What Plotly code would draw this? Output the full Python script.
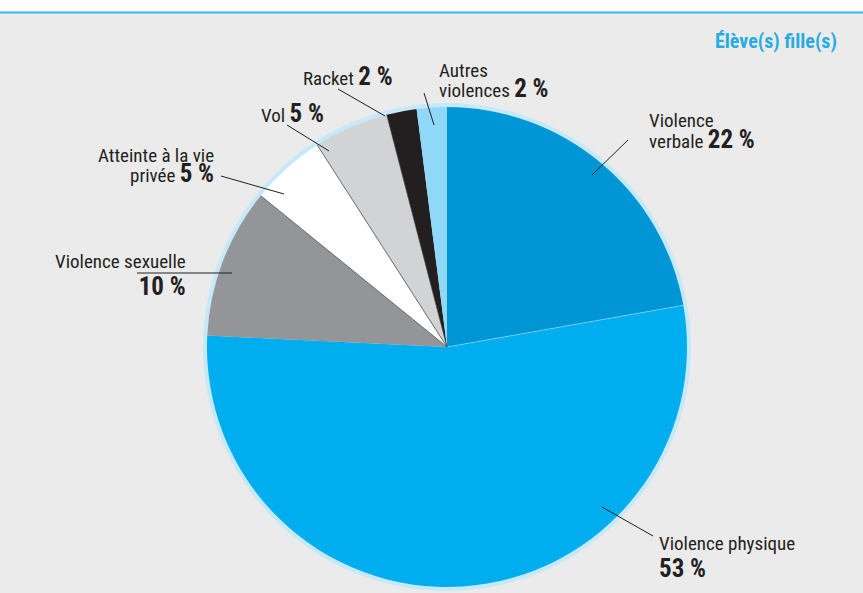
import math
import plotly.graph_objects as go

# --- data ---------------------------------------------------------------
categories = [
    "Violence verbale",
    "Violence physique",
    "Violence sexuelle",
    "Atteinte à la vie privée",
    "Vol",
    "Racket",
    "Autres violences",
]
shares = [22, 53, 10, 5, 5, 2, 2]
colors = ["#0096d6", "#00aeef", "#939598", "#ffffff", "#d1d3d4", "#231f20", "#8fd8f8"]
title_text = "Élève(s) fille(s)"

# --- geometry (pixels) --------------------------------------------------
W, H = 863, 593
CX, CY, R = 447, 347, 240
RING = 4

def px(x):
    return x / W

def py(y):
    return 1 - y / H

def domain(r):
    return dict(x=[px(CX - r), px(CX + r)], y=[py(CY + r), py(CY - r)])

FONT = "Roboto Condensed, Liberation Sans Narrow, DejaVu Sans Condensed, Arial Narrow, sans-serif"
TXT = "#231f20"

fig = go.Figure()

# light blue halo behind the pie
fig.add_trace(go.Pie(
    values=[1], labels=[""], marker=dict(colors=["#c6e9f9"], line=dict(width=0)),
    textinfo="none", hoverinfo="skip", showlegend=False, sort=False,
    domain=domain(R + RING),
))

fig.add_trace(go.Pie(
    values=shares, labels=categories, sort=False, direction="clockwise", rotation=0,
    marker=dict(colors=colors, line=dict(width=0)),
    textinfo="none", showlegend=False, domain=domain(R),
))

shapes = []
# top white band and cyan rule
shapes.append(dict(type="rect", xref="paper", yref="paper", x0=0, x1=1, y0=py(12), y1=1,
                   fillcolor="white", line=dict(width=0), layer="below"))
shapes.append(dict(type="line", xref="paper", yref="paper", x0=0, x1=1, y0=py(12.5), y1=py(12.5),
                   line=dict(color="#3ab4e6", width=2)))

# thin separators between slices, from cumulative shares
total = sum(shares)
cum = 0
for i, v in enumerate(shares):
    cum += v
    ang = 2 * math.pi * cum / total
    ex, ey = CX + R * math.sin(ang), CY - R * math.cos(ang)
    if i in (2, 3, 4):
        shapes.append(dict(type="line", xref="paper", yref="paper",
                           x0=px(CX), y0=py(CY), x1=px(ex), y1=py(ey),
                           line=dict(color="#3a3a3a", width=0.7)))
    elif i == 0:
        shapes.append(dict(type="line", xref="paper", yref="paper",
                           x0=px(CX), y0=py(CY), x1=px(ex), y1=py(ey),
                           line=dict(color="rgba(255,255,255,0.35)", width=1)))

# leader lines
leaders = [
    ((628, 140), (592, 175)),
    ((653, 536), (602, 507)),
    ((137, 273), (232, 273)),
    ((221, 176), (284, 194)),
    ((287, 125), (329, 151)),
    ((338, 89), (385, 116)),
    ((424, 93), (434, 125)),
]
for (x0, y0), (x1, y1) in leaders:
    shapes.append(dict(type="line", xref="paper", yref="paper",
                       x0=px(x0), y0=py(y0), x1=px(x1), y1=py(y1),
                       line=dict(color=TXT, width=1)))

def reg(s):
    return f"<span style='font-size:19px'>{s}</span>"

def big(s):
    return f"<b><span style='font-size:25px'>{s}</span></b>"

# (text, x, y, anchor, base size -> line spacing)
labels = [
    (reg("Violence") + "<br>" + reg("verbale ") + big(f"{shares[0]} %"), 647, 131, "left", 16),
    (reg("Violence physique") + "<br>" + big(f"{shares[1]} %"), 657, 557, "left", 21),
    (reg("Violence sexuelle") + "<br>" + big(f"{shares[2]} %"), 188, 275, "right", 21),
    (reg("Atteinte à la vie") + "<br>" + reg("privée ") + big(f"{shares[3]} %"), 216, 166, "right", 15),
    (reg("Vol ") + big(f"{shares[4]} %"), 326, 113, "right", 19),
    (reg("Racket ") + big(f"{shares[5]} %"), 395, 77, "right", 19),
    (reg("Autres") + "<br>" + reg("violences ") + big(f"{shares[6]} %"), 437, 81, "left", 15),
]
annotations = []
for text, x, y, anc, size in labels:
    annotations.append(dict(text=text, x=px(x), y=py(y), xref="paper", yref="paper",
                            xanchor=anc, yanchor="middle", align=anc, showarrow=False,
                            font=dict(family=FONT, size=size, color=TXT)))
annotations.append(dict(text=f"<b>{title_text}</b>", x=px(839), y=py(41), xref="paper", yref="paper",
                        xanchor="right", yanchor="middle", showarrow=False,
                        font=dict(family=FONT, size=20, color="#29abe2")))

fig.update_layout(
    width=W, height=H, margin=dict(l=0, r=0, t=0, b=0),
    paper_bgcolor="#ebebec", plot_bgcolor="#ebebec",
    shapes=shapes, annotations=annotations,
)

fig.write_html("out.html")
